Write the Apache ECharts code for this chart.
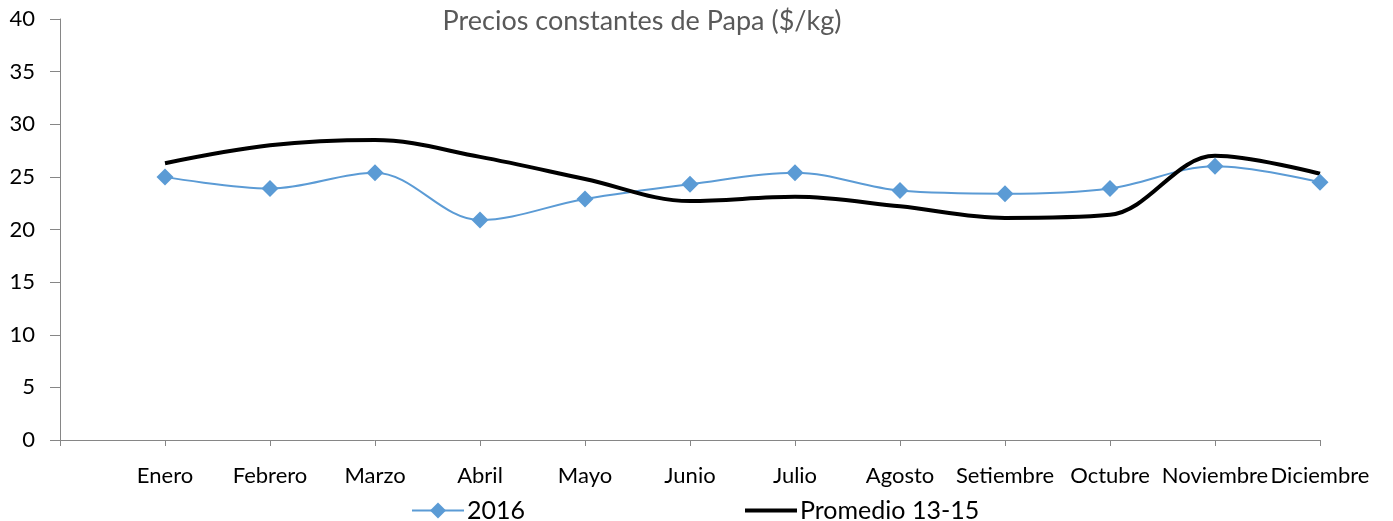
<!DOCTYPE html>
<html>
<head>
<meta charset="utf-8">
<title>Precios constantes de Papa</title>
<script src="https://cdn.jsdelivr.net/npm/echarts@6/dist/echarts.min.js"></script>
<style>
    html, body { margin: 0; padding: 0; background: #fff; }
    #chart { width: 1393px; height: 521px; }
</style>
</head>
<body>
<div id="chart"></div>
<script>
var meses = ['Enero', 'Febrero', 'Marzo', 'Abril', 'Mayo', 'Junio', 'Julio', 'Agosto', 'Setiembre', 'Octubre', 'Noviembre', 'Diciembre'];
var serie2016 = [25.0, 23.9, 25.4, 20.9, 22.9, 24.3, 25.4, 23.7, 23.4, 23.9, 26.0, 24.5];
var promedio1315 = [26.3, 28.0, 28.5, 26.9, 24.8, 22.7, 23.1, 22.2, 21.1, 21.4, 27.0, 25.3];
var yTicks = [0, 5, 10, 15, 20, 25, 30, 35, 40];

// el eje empieza una categoria antes de Enero (hueco vacio como en el original)
var xData = [''].concat(meses);
var d2016 = ['-'].concat(serie2016);
var dProm = ['-'].concat(promedio1315);

var fuente = 'Lato';
var chart = echarts.init(document.getElementById('chart'));

chart.setOption({
    animation: false,
    title: {
        text: 'Precios constantes de Papa ($/kg)',
        left: 637,
        textAlign: 'center',
        top: 3,
        textStyle: { fontFamily: fuente, fontSize: 27, fontWeight: 'normal', color: '#595959' }
    },
    legend: {
        left: 406,
        top: 493,
        itemWidth: 52,
        itemHeight: 20,
        itemGap: 218,
        textStyle: { fontFamily: fuente, fontSize: 25, color: '#000', padding: [0, 0, 0, -2] },
        data: [
            { name: '2016' },
            // sin simbolo en la leyenda, solo la linea
            { name: 'Promedio 13-15', itemStyle: { opacity: 0 }, lineStyle: { width: 4 } }
        ]
    },
    grid: { left: 60, right: 73, top: 19, bottom: 81 },
    xAxis: {
        type: 'category',
        data: xData,
        boundaryGap: false,
        axisLine: { lineStyle: { color: '#868686', width: 1 } },
        axisTick: { show: true, length: 6, interval: 0, lineStyle: { color: '#868686' } },
        axisLabel: { interval: 0, margin: 25, fontFamily: fuente, fontSize: 22, color: '#000' },
        splitLine: { show: false }
    },
    yAxis: {
        type: 'value',
        min: yTicks[0],
        max: yTicks[yTicks.length - 1],
        interval: 5,
        axisLine: { show: true, lineStyle: { color: '#868686', width: 1 } },
        axisTick: { show: true, length: 10, lineStyle: { color: '#868686' } },
        axisLabel: { margin: 25, fontFamily: fuente, fontSize: 22, color: '#000' },
        splitLine: { show: false }
    },
    series: [
        {
            name: '2016',
            type: 'line',
            data: d2016,
            smooth: 0.35,
            symbol: 'diamond',
            symbolSize: 17,
            itemStyle: { color: '#5B9BD5' },
            lineStyle: { color: '#5B9BD5', width: 2 }
        },
        {
            name: 'Promedio 13-15',
            type: 'line',
            data: dProm,
            smooth: 0.35,
            symbol: 'none',
            itemStyle: { color: '#000' },
            lineStyle: { color: '#000', width: 4 }
        }
    ]
});
</script>
</body>
</html>
